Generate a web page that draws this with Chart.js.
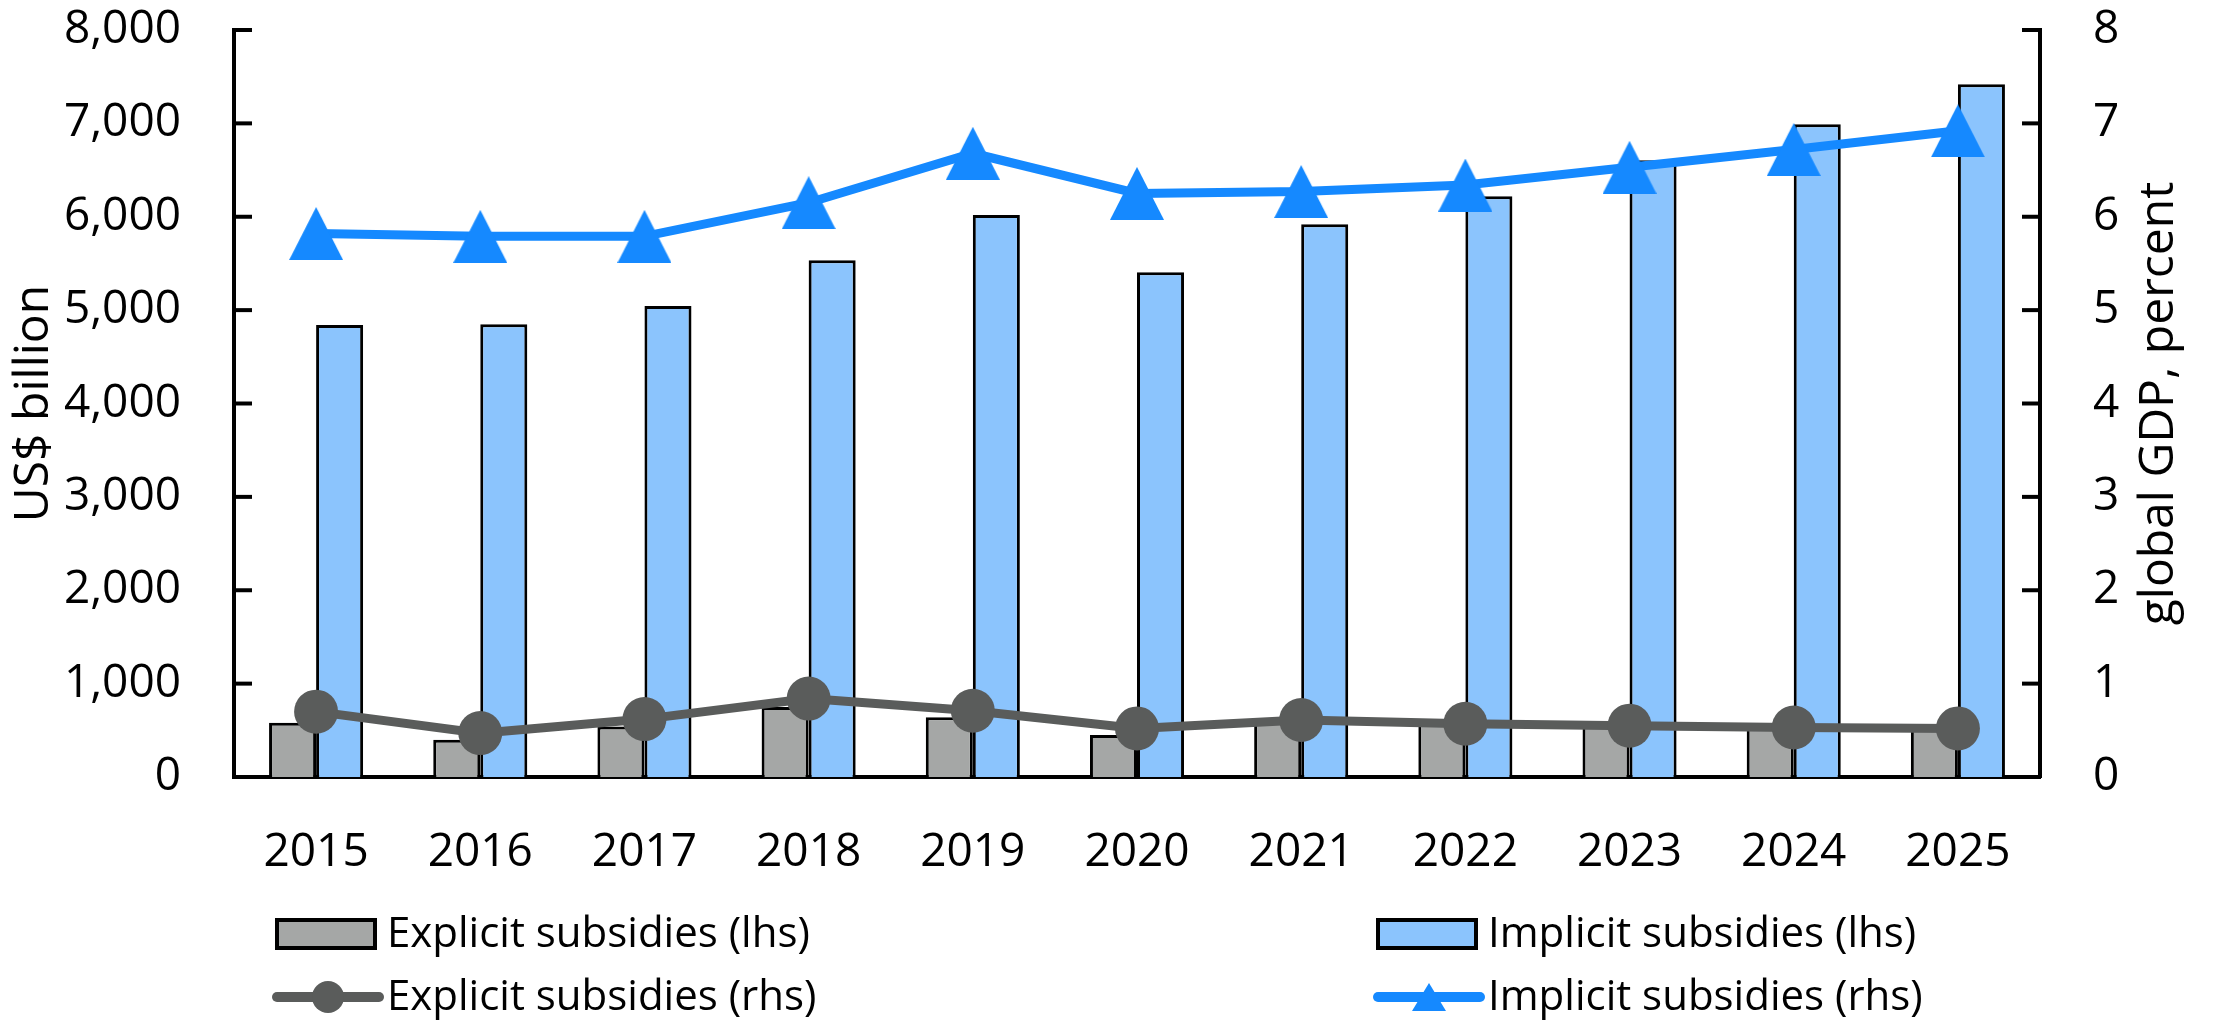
<!DOCTYPE html>
<html>
<head>
<meta charset="utf-8">
<script src="https://cdn.jsdelivr.net/npm/chart.js@4/dist/chart.umd.min.js"></script>
<style>
  body { margin: 0; background: #fff; }
  canvas { display: block; }
</style>
</head>
<body>
<canvas id="subsidyChart" width="2213" height="1022"></canvas>
<script>
// Data
const years = ['2015', '2016', '2017', '2018', '2019', '2020', '2021', '2022', '2023', '2024', '2025'];
const explicitBillion = [580, 400, 540, 750, 640, 450, 590, 570, 555, 550, 545];
const implicitBillion = [4840, 4850, 5045, 5535, 6020, 5405, 5920, 6220, 6605, 6990, 7420];
const explicitPct = [0.70, 0.47, 0.62, 0.84, 0.71, 0.52, 0.61, 0.57, 0.55, 0.53, 0.52];
const implicitPct = [5.82, 5.79, 5.79, 6.15, 6.68, 6.25, 6.27, 6.34, 6.53, 6.72, 6.92];

const FONT = "'Open Sans', 'Noto Sans', sans-serif";
const GRAY_BAR = '#a5a7a6';
const BLUE_BAR = '#8bc4fd';
const GRAY_LINE = '#5a5c5b';
const BLUE_LINE = '#1589ff';

// Triangle centred in its box (Chart.js' own triangle sits high on the point)
function triangleMarker(w, h, color) {
    const c = document.createElement('canvas');
    c.width = w;
    c.height = h;
    const g = c.getContext('2d');
    g.fillStyle = color;
    g.beginPath();
    g.moveTo(w / 2, 0);
    g.lineTo(w, h);
    g.lineTo(0, h);
    g.closePath();
    g.fill();
    return c;
}
const bigTriangle = triangleMarker(54, 53, BLUE_LINE);
const smallTriangle = triangleMarker(34, 28, BLUE_LINE);

// Short tick marks pointing into the plot, like the original
const innerTicks = {
    id: 'innerTicks',
    afterDraw(chart) {
        const ctx = chart.ctx;
        ctx.save();
        ctx.strokeStyle = '#000';
        ctx.lineWidth = 4;
        const left = chart.scales.y;
        left.ticks.forEach((t, i) => {
            const y = left.getPixelForTick(i);
            ctx.beginPath();
            ctx.moveTo(chart.chartArea.left, y);
            ctx.lineTo(chart.chartArea.left + 18, y);
            ctx.stroke();
        });
        const right = chart.scales.y1;
        right.ticks.forEach((t, i) => {
            const y = right.getPixelForTick(i);
            ctx.beginPath();
            ctx.moveTo(chart.chartArea.right, y);
            ctx.lineTo(chart.chartArea.right - 18, y);
            ctx.stroke();
        });
        ctx.restore();
    }
};

// Right axis title reads bottom-to-top
const rightTitle = {
    id: 'rightTitle',
    afterDraw(chart) {
        const ctx = chart.ctx;
        const area = chart.chartArea;
        ctx.save();
        ctx.translate(2159, (area.top + area.bottom) / 2);
        ctx.rotate(-Math.PI / 2);
        ctx.font = '48px ' + FONT;
        ctx.fillStyle = '#000';
        ctx.textAlign = 'center';
        ctx.textBaseline = 'middle';
        ctx.fillText('global GDP, percent', 0, 0);
        ctx.restore();
    }
};

// Two-column legend under the axis
const gridLegend = {
    id: 'gridLegend',
    afterDraw(chart) {
        const ctx = chart.ctx;
        const ds = chart.data.datasets;
        const cols = [277, 1378];
        const rows = [934, 997];
        ctx.save();
        ctx.font = '42px ' + FONT;
        ctx.fillStyle = '#000';
        ctx.textBaseline = 'alphabetic';

        ds.forEach((d, i) => {
            const x = cols[i % 2];
            const y = rows[Math.floor(i / 2)];
            if (d.type === 'bar') {
                ctx.fillStyle = d.backgroundColor;
                ctx.fillRect(x, y - 14, 98, 28);
                ctx.strokeStyle = '#000';
                ctx.lineWidth = 4;
                ctx.strokeRect(x, y - 14, 98, 28);
            } else {
                ctx.strokeStyle = d.borderColor;
                ctx.lineWidth = 10;
                ctx.lineCap = 'round';
                ctx.beginPath();
                ctx.moveTo(x, y);
                ctx.lineTo(x + 102, y);
                ctx.stroke();
                if (d.pointStyle === 'circle') {
                    ctx.fillStyle = d.pointBackgroundColor;
                    ctx.beginPath();
                    ctx.arc(x + 51, y, 16, 0, Math.PI * 2);
                    ctx.fill();
                } else {
                    ctx.drawImage(smallTriangle, x + 51 - smallTriangle.width / 2, y - smallTriangle.height / 2);
                }
            }
            ctx.fillStyle = '#000';
            ctx.fillText(d.label, x + 110, y + 13);
        });
        ctx.restore();
    }
};

// keep the plot box where the reference has it
function noVertPadding(scale) {
    scale.paddingTop = 0;
    scale.paddingBottom = 0;
}

const ctx = document.getElementById('subsidyChart').getContext('2d');

new Chart(ctx, {
    data: {
        labels: years,
        datasets: [
            {
                type: 'bar',
                label: 'Explicit subsidies (lhs)',
                data: explicitBillion,
                yAxisID: 'y',
                backgroundColor: GRAY_BAR,
                borderColor: '#000',
                borderWidth: 3,
                order: 2
            },
            {
                type: 'bar',
                label: 'Implicit subsidies (lhs)',
                data: implicitBillion,
                yAxisID: 'y',
                backgroundColor: BLUE_BAR,
                borderColor: '#000',
                borderWidth: 3,
                order: 2
            },
            {
                type: 'line',
                label: 'Explicit subsidies (rhs)',
                data: explicitPct,
                yAxisID: 'y1',
                borderColor: GRAY_LINE,
                backgroundColor: GRAY_LINE,
                pointBackgroundColor: GRAY_LINE,
                borderWidth: 9,
                pointStyle: 'circle',
                pointRadius: 22,
                pointBorderWidth: 0,
                tension: 0,
                order: 1
            },
            {
                type: 'line',
                label: 'Implicit subsidies (rhs)',
                data: implicitPct,
                yAxisID: 'y1',
                borderColor: BLUE_LINE,
                backgroundColor: BLUE_LINE,
                pointBackgroundColor: BLUE_LINE,
                borderWidth: 9,
                pointStyle: bigTriangle,
                pointRadius: 27,
                pointBorderWidth: 0,
                tension: 0,
                order: 0
            }
        ]
    },
    options: {
        responsive: false,
        devicePixelRatio: 1,
        animation: false,
        layout: { padding: { top: 30, left: 0, right: 0, bottom: 0 } },
        datasets: {
            bar: { categoryPercentage: 0.573, barPercentage: 1.0 }
        },
        plugins: {
            legend: { display: false },
            tooltip: { enabled: false }
        },
        scales: {
            x: {
                grid: { display: false, drawTicks: false },
                border: { display: true, color: '#000', width: 4 },
                ticks: {
                    color: '#000',
                    font: { family: FONT, size: 46 },
                    padding: 48,
                    maxRotation: 0
                },
                afterFit(scale) { scale.height = 245; }
            },
            y: {
                position: 'left',
                min: 0,
                max: 8000,
                grid: { display: false, drawTicks: false },
                border: { display: true, color: '#000', width: 4 },
                ticks: {
                    stepSize: 1000,
                    color: '#000',
                    font: { family: FONT, size: 46 },
                    padding: 53,
                    callback: v => v.toLocaleString('en-US')
                },
                title: {
                    display: true,
                    text: 'US$ billion',
                    color: '#000',
                    font: { family: FONT, size: 48 },
                    padding: { top: 6, bottom: 0 }
                },
                afterFit(scale) { scale.width = 234; noVertPadding(scale); }
            },
            y1: {
                position: 'right',
                min: 0,
                max: 8,
                grid: { display: false, drawTicks: false },
                border: { display: true, color: '#000', width: 4 },
                ticks: {
                    stepSize: 1,
                    color: '#000',
                    font: { family: FONT, size: 46 },
                    padding: 53
                },
                afterFit(scale) { scale.width = 173; noVertPadding(scale); }
            }
        }
    },
    plugins: [innerTicks, rightTitle, gridLegend]
});
</script>
</body>
</html>
